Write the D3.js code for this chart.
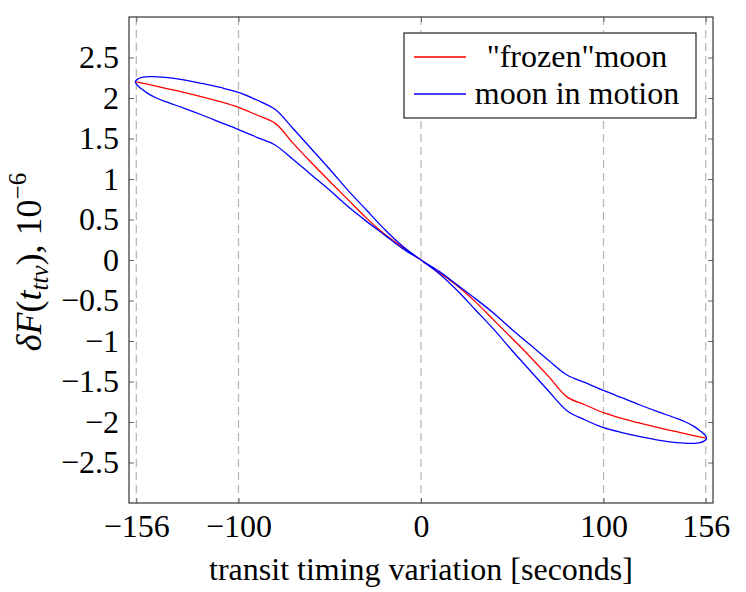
<!DOCTYPE html>
<meta charset="utf-8">

<head>
    <style>
        body {
            margin: 0;
            font-family: "Liberation Serif", "DejaVu Serif", serif;
            width: 746px;
            height: 592px;
            background: white;
        }

        text {
            font-family: "Liberation Serif", "DejaVu Serif", serif;
            fill: #000;
        }

        .tick text {
            font-size: 32px;
        }

        .grid line {
            stroke: #b4b4b4;
            stroke-width: 1.2;
            stroke-dasharray: 8, 5;
        }

        .line {
            fill: none;
            stroke-width: 1.3;
        }
    </style>
</head>

<body>
    <script src="https://cdn.jsdelivr.net/npm/d3@7"></script>
    <script>
        // tick values
        var xTicks = [-156, -100, 0, 100, 156];
        var yTicks = [-2.5, -2, -1.5, -1, -0.5, 0, 0.5, 1, 1.5, 2, 2.5];

        // "frozen" moon (red)
        var frozenX = [-156, -150, -140, -130, -120, -110, -100, -90, -80, -70, -60, -50, -40, -30, -20, -10, 0,
            10, 20, 30, 40, 50, 60, 70, 80, 90, 100, 110, 120, 130, 140, 150, 156];
        var frozenY = [2.20, 2.17, 2.12, 2.07, 2.015, 1.955, 1.885, 1.79, 1.69, 1.44, 1.20, 0.97, 0.745, 0.52, 0.32, 0.155, 0,
            -0.155, -0.32, -0.52, -0.745, -0.97, -1.20, -1.44, -1.69, -1.79, -1.885, -1.955, -2.015, -2.07, -2.12, -2.17, -2.20];

        // moon in motion (blue), outer branch, left tip -> right tip
        var motionOuterX = [-156.5, -155.5, -153, -148, -140, -130, -120, -110, -100, -90, -80, -70, -60, -50, -40, -30, -20, -10, 0,
            10, 20, 30, 40, 50, 60, 70, 80, 90, 100, 110, 120, 130, 140, 148, 153, 155.5, 156.5];
        var motionOuterY = [2.20, 2.23, 2.255, 2.265, 2.255, 2.225, 2.18, 2.13, 2.07, 1.975, 1.86, 1.62, 1.37, 1.12, 0.86, 0.62, 0.38, 0.17, 0,
            -0.17, -0.38, -0.62, -0.86, -1.12, -1.37, -1.62, -1.86, -1.975, -2.07, -2.13, -2.18, -2.225, -2.255, -2.265, -2.255, -2.23, -2.20];

        // moon in motion (blue), inner branch, left tip -> right tip
        var motionInnerX = [-156.5, -155.5, -153, -150, -145, -140, -130, -120, -110, -100, -90, -80, -70, -60, -50, -40, -30, -20, -10, 0,
            10, 20, 30, 40, 50, 60, 70, 80, 90, 100, 110, 120, 130, 140, 145, 150, 153, 155.5, 156.5];
        var motionInnerY = [2.20, 2.16, 2.11, 2.06, 2.0, 1.955, 1.875, 1.79, 1.70, 1.61, 1.515, 1.42, 1.24, 1.05, 0.86, 0.66, 0.48, 0.31, 0.14, 0,
            -0.14, -0.31, -0.48, -0.66, -0.86, -1.05, -1.24, -1.42, -1.515, -1.61, -1.70, -1.79, -1.875, -1.955, -2.0, -2.06, -2.11, -2.16, -2.20];

        var width = 746,
            height = 592,
            margin = { top: 17, right: 33, bottom: 89, left: 129 },
            w = width - margin.left - margin.right,
            h = height - margin.top - margin.bottom,
            tickLen = 5;

        var svg = d3.select('body')
            .append("svg")
            .attr("width", width)
            .attr("height", height);

        var g = svg.append("g")
            .attr("transform", "translate(" + margin.left + "," + margin.top + ")");

        var x = d3.scaleLinear().domain([-160, 160]).range([0, w]);
        var y = d3.scaleLinear().domain([-3, 3]).range([h, 0]);

        function minus(d) { return d < 0 ? "\u2212" + (-d) : d; }

        // dashed vertical grid
        g.append("g")
            .attr("class", "grid")
            .selectAll("line")
            .data(xTicks)
            .enter()
            .append("line")
            .attr("x1", function (d) { return x(d); })
            .attr("x2", function (d) { return x(d); })
            .attr("y1", 0)
            .attr("y2", h);

        // axes, ticks pointing inward
        function styleAxis(sel) {
            sel.select(".domain").remove();
            sel.selectAll(".tick line").attr("stroke", "#666").attr("stroke-width", 1);
        }

        g.append("g")
            .attr("transform", "translate(0," + h + ")")
            .call(d3.axisBottom(x).tickValues(xTicks).tickSizeInner(-tickLen).tickSizeOuter(0)
                .tickPadding(tickLen + 6).tickFormat(minus))
            .call(styleAxis)
            .selectAll("text").attr("dy", "0.72em");

        g.append("g")
            .call(d3.axisTop(x).tickValues(xTicks).tickSizeInner(-tickLen).tickSizeOuter(0).tickFormat(""))
            .call(styleAxis);

        g.append("g")
            .call(d3.axisLeft(y).tickValues(yTicks).tickSizeInner(-tickLen).tickSizeOuter(0)
                .tickPadding(tickLen + 5).tickFormat(minus))
            .call(styleAxis);

        g.append("g")
            .attr("transform", "translate(" + w + ",0)")
            .call(d3.axisRight(y).tickValues(yTicks).tickSizeInner(-tickLen).tickSizeOuter(0).tickFormat(""))
            .call(styleAxis);

        // curves
        g.append("clipPath").attr("id", "plotclip")
            .append("rect").attr("width", w).attr("height", h);

        var frozen = frozenX.map(function (d, i) { return [d, frozenY[i]]; });
        var outer = motionOuterX.map(function (d, i) { return [d, motionOuterY[i]]; });
        var inner = motionInnerX.map(function (d, i) { return [d, motionInnerY[i]]; });
        // closed loop: outer left->right, then inner right->left (drop shared tips)
        var loop = outer.concat(inner.slice(1, -1).reverse());

        var line = d3.line()
            .x(function (d) { return x(d[0]); })
            .y(function (d) { return y(d[1]); })
            .curve(d3.curveCatmullRom.alpha(0.5));

        var lineClosed = d3.line()
            .x(function (d) { return x(d[0]); })
            .y(function (d) { return y(d[1]); })
            .curve(d3.curveCatmullRomClosed.alpha(0.5));

        g.append("path")
            .datum(frozen)
            .attr("class", "line")
            .attr("stroke", "#ff0000")
            .attr("clip-path", "url(#plotclip)")
            .attr("d", line);

        g.append("path")
            .datum(loop)
            .attr("class", "line")
            .attr("stroke", "#0000ff")
            .attr("clip-path", "url(#plotclip)")
            .attr("d", lineClosed);

        // frame
        g.append("rect")
            .attr("width", w)
            .attr("height", h)
            .attr("fill", "none")
            .attr("stroke", "#333")
            .attr("stroke-width", 1.2);

        // legend
        var legend = svg.append("g").attr("transform", "translate(404,33)");
        legend.append("rect")
            .attr("width", 292)
            .attr("height", 85)
            .attr("fill", "white")
            .attr("stroke", "#222")
            .attr("stroke-width", 1.2);

        var legendItems = [{ label: "\"frozen\"moon", color: "#ff0000" }, { label: "moon in motion", color: "#0000ff" }];
        var li = legend.selectAll(".item")
            .data(legendItems)
            .enter()
            .append("g")
            .attr("transform", function (d, i) { return "translate(0," + (24 + i * 37) + ")"; });

        li.append("line")
            .attr("x1", 10)
            .attr("x2", 62)
            .attr("stroke", function (d) { return d.color; })
            .attr("stroke-width", 1.3);

        li.append("text")
            .attr("x", 173)
            .attr("y", 10)
            .attr("text-anchor", "middle")
            .style("font-size", "32px")
            .text(function (d) { return d.label; });

        // axis labels
        svg.append("text")
            .attr("x", margin.left + x(0))
            .attr("y", 580)
            .attr("text-anchor", "middle")
            .style("font-size", "32px")
            .text("transit timing variation [seconds]");

        var ylab = svg.append("text")
            .attr("transform", "translate(41," + (margin.top + y(0) + 2) + ") rotate(-90)")
            .attr("text-anchor", "middle")
            .style("font-size", "36px");
        ylab.append("tspan").style("font-style", "italic").text("\u03b4F");
        ylab.append("tspan").text("(");
        ylab.append("tspan").style("font-style", "italic").text("t");
        ylab.append("tspan").style("font-style", "italic").style("font-size", "25px").attr("dy", 7).text("ttv");
        ylab.append("tspan").attr("dy", -7).text("), 10");
        ylab.append("tspan").style("font-size", "25px").attr("dy", -15).text("\u22126");
    </script>
</body>
